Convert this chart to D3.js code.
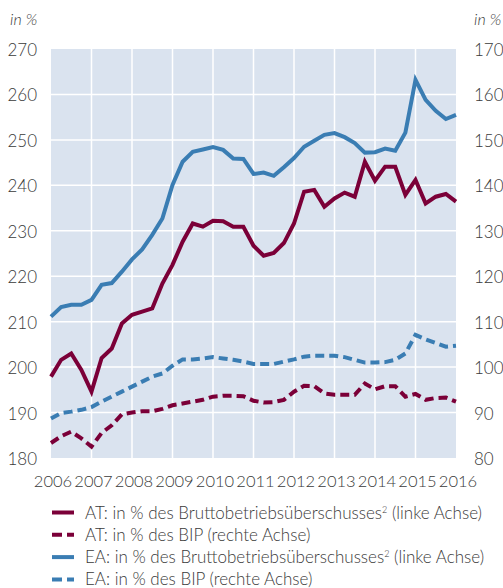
<!DOCTYPE html>
<html>
<head>
<meta charset="utf-8">
<script src="https://cdn.jsdelivr.net/npm/d3@7"></script>
<style>
  body { margin: 0; background: #fff; }
  svg text { font-family: Lato, "Open Sans", sans-serif; font-weight: 300; fill: #3a3a3a; }
</style>
</head>
<body>
<div id="container"></div>
<script>
// quarterly data, 2006 Q1 .. 2016 Q1
const years = [2006, 2007, 2008, 2009, 2010, 2011, 2012, 2013, 2014, 2015, 2016]
const leftTicks = [180, 190, 200, 210, 220, 230, 240, 250, 260, 270]
const rightTicks = [80, 90, 100, 110, 120, 130, 140, 150, 160, 170]

// AT: in % of gross operating surplus (left axis)
const atSurplus = [197.9, 201.6, 203, 199.4, 194.6, 202, 204.1, 209.6, 211.5, 212.2,
  212.9, 218.4, 222.5, 227.6, 231.6, 230.9, 232.2, 232.1, 230.9, 230.9,
  226.7, 224.5, 225.1, 227.3, 231.6, 238.6, 239, 235.3, 237.1, 238.4,
  237.5, 245.2, 241, 244.1, 244.1, 237.9, 241.2, 236, 237.5, 238.1, 236.4]
// AT: in % of GDP (right axis)
const atGdp = [83.3, 84.8, 85.8, 84.3, 82.5, 85.5, 87.2, 89.6, 90, 90.3,
  90.3, 90.8, 91.6, 92, 92.4, 92.8, 93.5, 93.7, 93.7, 93.6,
  92.6, 92.2, 92.3, 92.8, 94.6, 95.9, 95.8, 94.2, 93.9, 93.9,
  93.9, 96.4, 95.1, 95.8, 95.8, 93.5, 94.1, 92.8, 93.2, 93.3, 92.4]
// EA: in % of gross operating surplus (left axis)
const eaSurplus = [211.1, 213.2, 213.7, 213.7, 214.8, 218.1, 218.5, 221, 223.7, 225.9,
  229.1, 232.7, 240.1, 245.2, 247.4, 247.9, 248.4, 247.8, 245.9, 245.8,
  242.5, 242.8, 242.1, 244, 246, 248.5, 249.8, 251.1, 251.5, 250.6,
  249.3, 247.2, 247.3, 248.1, 247.6, 251.6, 263.2, 258.8, 256.4, 254.6, 255.5]
// EA: in % of GDP (right axis)
const eaGdp = [88.7, 89.9, 90.2, 90.6, 91.2, 92.4, 93.5, 94.6, 95.7, 96.8,
  97.9, 98.6, 100.3, 101.7, 101.7, 101.9, 102.2, 101.9, 101.6, 101.2,
  100.7, 100.7, 100.7, 101.2, 101.7, 102.3, 102.5, 102.5, 102.5, 102.2,
  101.6, 101, 101, 101.1, 101.6, 103, 107.1, 106.1, 105.3, 104.5, 104.7]

const legendLabels = [
  "AT: in % des Bruttobetriebsüberschusses",
  "AT: in % des BIP (rechte Achse)",
  "EA: in % des Bruttobetriebsüberschusses",
  "EA: in % des BIP (rechte Achse)"
]

const width = 503, height = 588
const margin = {top: 49, left: 51, right: 47, bottom: 130}
const red = "#7b0038", blue = "#3a7db3"

let svg = d3.select("#container")
    .append("svg")
    .attr("width", width)
    .attr("height", height)

//scales
let x = d3.scaleLinear()
    .domain([2006, 2016])
    .range([margin.left, width - margin.right])
let yL = d3.scaleLinear()
    .domain([180, 270])
    .range([height - margin.bottom, margin.top])
let yR = d3.scaleLinear()
    .domain([80, 170])
    .range([height - margin.bottom, margin.top])

//plot background
svg.append("rect")
    .attr("x", x(2006))
    .attr("y", yL(270))
    .attr("width", x(2016) - x(2006))
    .attr("height", yL(180) - yL(270))
    .attr("fill", "#dae3ef")

//grid
svg.append("g")
    .selectAll("line")
    .data(leftTicks.slice(1, -1))
    .enter().append("line")
    .attr("x1", x(2006)).attr("x2", x(2016))
    .attr("y1", d => yL(d)).attr("y2", d => yL(d))
    .attr("stroke", "#fff").attr("stroke-width", 1.5)
svg.append("g")
    .selectAll("line")
    .data(years.slice(1, -1))
    .enter().append("line")
    .attr("x1", d => x(d)).attr("x2", d => x(d))
    .attr("y1", yL(270)).attr("y2", yL(180))
    .attr("stroke", "#fff").attr("stroke-width", 1.5)

//axes (text only)
svg.append("g")
    .selectAll("text")
    .data(leftTicks)
    .enter().append("text")
    .attr("x", 37)
    .attr("y", d => yL(d) + 7)
    .attr("text-anchor", "end")
    .attr("font-size", 17)
    .text(d => d)
svg.append("g")
    .selectAll("text")
    .data(rightTicks)
    .enter().append("text")
    .attr("x", 474)
    .attr("y", d => yR(d) + 7)
    .attr("font-size", 17)
    .text(d => d)
svg.append("g")
    .selectAll("text")
    .data(years)
    .enter().append("text")
    .attr("x", d => x(d) + 2)
    .attr("y", 487)
    .attr("text-anchor", "middle")
    .attr("font-size", 16.5)
    .text(d => d)

svg.append("text").attr("x", 10).attr("y", 25)
    .attr("font-size", 16).attr("font-style", "italic").text("in %")
svg.append("text").attr("x", 474).attr("y", 25)
    .attr("font-size", 16).attr("font-style", "italic").text("in %")

//lines
const qx = (d, i) => x(2006 + i / 4)
const series = [
  {values: atGdp, y: yR, color: red, dash: "9,5"},
  {values: eaGdp, y: yR, color: blue, dash: "9,5"},
  {values: atSurplus, y: yL, color: red, dash: null},
  {values: eaSurplus, y: yL, color: blue, dash: null}
]
series.forEach(s => {
  svg.append("path")
      .datum(s.values)
      .attr("d", d3.line().x(qx).y(d => s.y(d)))
      .attr("fill", "none")
      .attr("stroke", s.color)
      .attr("stroke-width", 4)
      .attr("stroke-linejoin", "miter")
      .attr("stroke-dasharray", s.dash)
})

//legend
const legendStyle = [
  {color: red, dash: null, sup: true},
  {color: red, dash: "10,5", sup: false},
  {color: blue, dash: null, sup: true},
  {color: blue, dash: "10,5", sup: false}
]
let legend = svg.append("g")
legendLabels.forEach((lab, i) => {
  const cy = 512.5 + i * 22.3
  const st = legendStyle[i]
  legend.append("line")
      .attr("x1", 52).attr("x2", 74)
      .attr("y1", cy).attr("y2", cy)
      .attr("stroke", st.color).attr("stroke-width", 4)
      .attr("stroke-dasharray", st.dash)
  let t = legend.append("text")
      .attr("x", 85).attr("y", cy + 6)
      .attr("font-size", 17)
      .text(lab)
  if (st.sup) {
    t.append("tspan").attr("dy", -6).attr("font-size", 9).text("2")
    t.append("tspan").attr("dy", 6).text(" (linke Achse)")
  }
})
</script>
</body>
</html>
